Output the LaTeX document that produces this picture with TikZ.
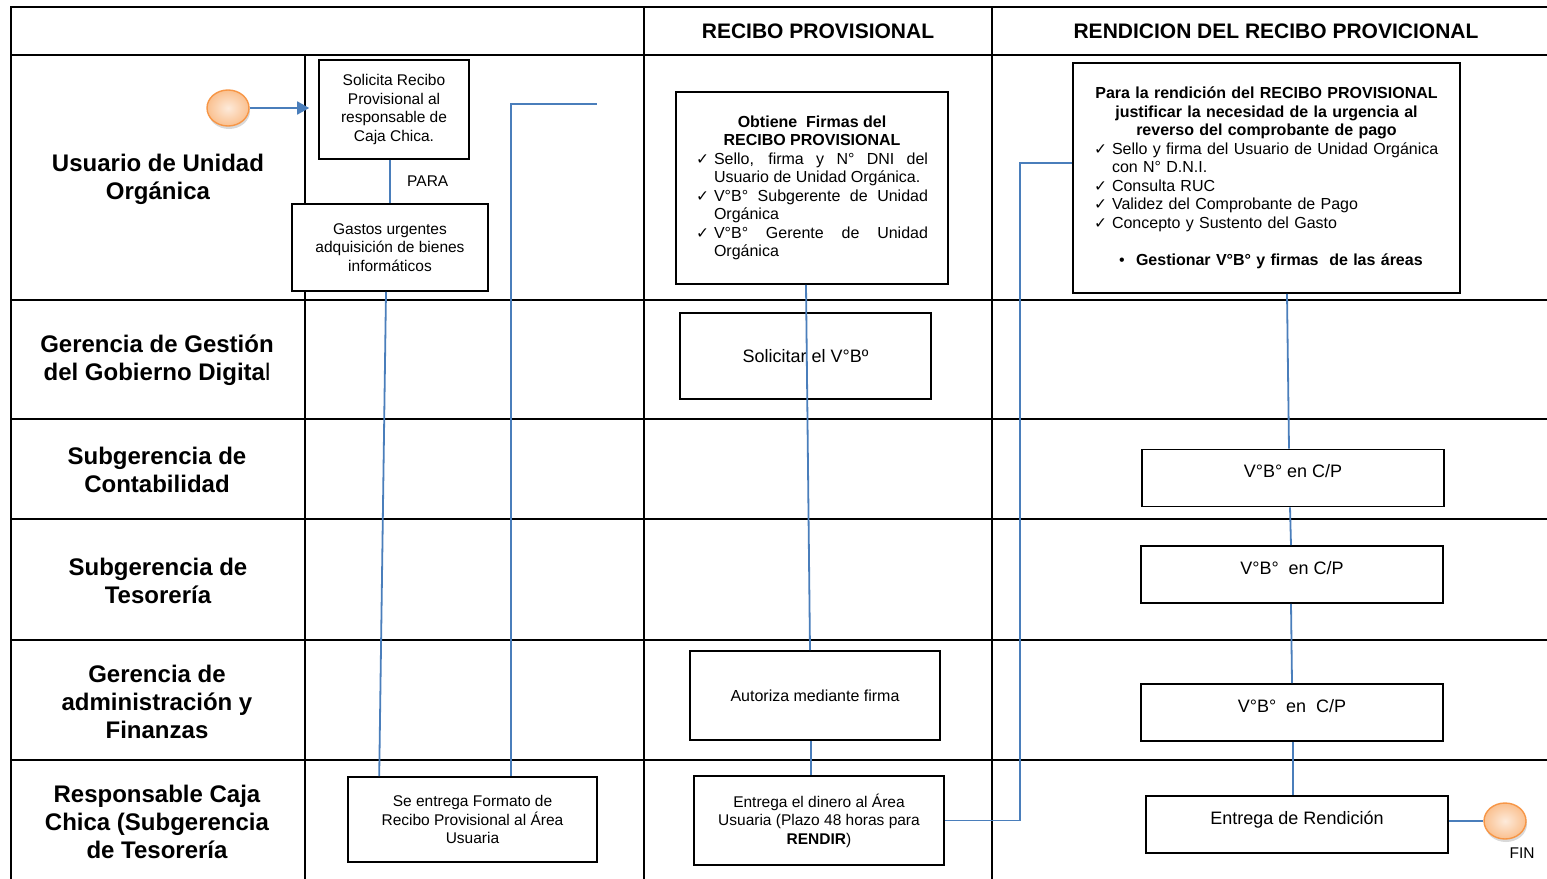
\documentclass[tikz,border=0pt]{standalone}
\usepackage{fontspec}
\setmainfont{Liberation Sans}
\newfontfamily\symf{DejaVu Sans}
\usetikzlibrary{positioning,calc,arrows.meta,shapes.geometric,shadows}
\definecolor{linkblue}{RGB}{74,126,187}
\definecolor{evorange}{RGB}{247,150,70}
\definecolor{evlight}{RGB}{253,234,218}
\definecolor{evmid}{RGB}{250,192,143}
\newcommand\chkitem{\par\noindent\hangindent=18pt\hangafter=1\makebox[18pt][l]{\symf\fontsize{15.5}{18.5}\selectfont ✓}}

\begin{document}
\begin{tikzpicture}[x=1pt, y=-1pt, thick,
  main/.style = {draw, line width=1.6pt, fill=white, inner sep=0pt, align=center, font=\fontsize{15.5}{18.5}\selectfont},
  lane/.style = {align=center, font=\fontsize{24}{28}\selectfont\bfseries},
  colhead/.style = {font=\fontsize{21}{25}\selectfont\bfseries},
  vb/.style = {main, minimum width=302pt, minimum height=57pt, text height=13pt, text depth=14pt, font=\fontsize{18}{22}\selectfont},
  event/.style = {ellipse, draw=evorange, line width=1.4pt, inner color=evlight, outer color=evmid, minimum width=42pt, minimum height=36pt, inner sep=0pt, drop shadow={opacity=0.3, shadow xshift=1pt, shadow yshift=-3pt}},
  flow/.style = {draw=linkblue, line width=1.8pt},
  tableline/.style = {line width=2.2pt, line cap=rect}]
    \useasboundingbox (0,0) rectangle (1547,878);
    \draw[tableline] (11,7) -- (1547,7) (11,55) -- (1547,55) (11,300) -- (1547,300) (11,419) -- (1547,419)
        (11,519) -- (1547,519) (11,640) -- (1547,640) (11,760) -- (1547,760)
        (11,7) -- (11,878) (305,55) -- (305,878) (644,7) -- (644,878) (992,7) -- (992,878);
    \node[colhead] (h1) at (818,31) {RECIBO PROVISIONAL};
    \node[colhead] (h2) at (1276,31) {RENDICION DEL RECIBO PROVICIONAL};
    \node[lane] (l1) at (158,179) {Usuario de Unidad\\Orgánica};
    \node[lane] (l2) at (157,360) {Gerencia de Gestión\\del Gobierno Digita{\mdseries l}};
    \node[lane] (l3) at (157,470) {Subgerencia de\\Contabilidad};
    \node[lane] (l4) at (158,581) {Subgerencia de\\Tesorería};
    \node[lane] (l5) at (157,702) {Gerencia de\\administración y\\Finanzas};
    \node[lane] (l6) at (157,822) {Responsable Caja\\Chica (Subgerencia\\de Tesorería};
    \node[event] (0) at (228,108) {};
    \node[main, minimum width=150pt, minimum height=99pt] (1) at (394,109.5) {Solicita Recibo\\Provisional al\\responsable de\\Caja Chica.};
    \node[main, minimum width=196pt, minimum height=87pt] (2) at (390,247.5) {Gastos urgentes\\adquisición de bienes\\informáticos};
    \node[main, minimum width=249pt, minimum height=85pt] (3) at (472.5,819.5) {Se entrega Formato de\\Recibo Provisional al Área\\Usuaria};
    \node[main, minimum width=272pt, minimum height=192pt, text width=232pt, align=justify, font=\fontsize{16}{18.5}\selectfont] (4) at (812,188) {\tolerance=9999
        {\centering\bfseries Obtiene\ \ Firmas del\par RECIBO PROVISIONAL\par}
        \chkitem Sello, firma y N° DNI del Usuario de Unidad Orgánica.
        \chkitem V°B° Subgerente de Unidad Orgánica
        \chkitem V°B° Gerente de Unidad Orgánica\par};
    \node[main, minimum width=251pt, minimum height=86pt, font=\fontsize{18}{22}\selectfont] (5) at (805.5,356) {Solicitar el V°Bº};
    \node[main, minimum width=250pt, minimum height=89pt, font=\fontsize{16}{18.5}\selectfont] (6) at (815,695.5) {Autoriza mediante firma};
    \node[main, minimum width=250pt, minimum height=89pt] (7) at (819,820.5) {Entrega el dinero al Área\\Usuaria (Plazo 48 horas para\\\textbf{RENDIR})};
    \node[main, minimum width=387pt, minimum height=230pt, text width=345pt, align=left, font=\fontsize{16}{18.5}\selectfont] (8) at (1266.5,178) {
        {\centering\bfseries Para la rendición del RECIBO PROVISIONAL\par justificar la necesidad de la urgencia al\par reverso del comprobante de pago\par}
        \chkitem Sello y firma del Usuario de Unidad Orgánica con N° D.N.I.
        \chkitem Consulta RUC
        \chkitem Validez del Comprobante de Pago
        \chkitem Concepto y Sustento del Gasto
        \par\vspace{18.5pt}\noindent\hspace*{25pt}\makebox[17pt][l]{•}\textbf{Gestionar V°B° y firmas\ \ de las áreas}\par};
    \node[vb] (9) at (1293,478) {V°B° en C/P};
    \node[vb] (10) at (1292,574.5) {V°B°\ \ en C/P};
    \node[vb] (11) at (1292,712.5) {V°B°\ \ en\ \ C/P};
    \node[vb] (12) at (1297,824.5) {Entrega de Rendición};
    \node[event] (13) at (1505,821) {};
    \node (fin) [below=4pt of 13, xshift=17pt, font=\fontsize{15.5}{18}\selectfont] {FIN};
    \coordinate (e1) at (597,104);
    \coordinate (k) at (1020,163);
    \draw[flow, -{Triangle[length=12pt,width=13pt]}, shorten >=9pt] (0) -- (0 -| 1.west);
    \draw[flow] (1.south -| 2) -- (2) node (para) [midway, right=13pt, font=\fontsize{15.5}{18}\selectfont] {PARA};
    \draw[flow] ($(2.south)+(-4,0)$) -- ($(3.north west)+(32,0)$);
    \draw[flow] ($(3.north west)+(164,0)$) |- (e1);
    \draw[flow] ($(4.south)+(-6,0)$) -- ($(6.north)+(-5,0)$);
    \draw[flow] ($(6.south)+(-4,0)$) -- ($(7.north)+(-8,0)$);
    \draw[flow] (7.east) -| (k) -- (8.west |- k);
    \draw[flow] ($(8.south)+(20.5,0)$) -- ($(9.north)+(-4,0)$);
    \draw[flow] ($(9.south)+(-3,0)$) -- ($(10.north)+(-1,0)$);
    \draw[flow] ($(10.south)+(-1,0)$) -- (11.north);
    \draw[flow] ($(11.south)+(1,0)$) -- ($(12.north)+(-4,0)$);
    \draw[flow] (12.east |- 13) -- (13);
\end{tikzpicture}
\end{document}
